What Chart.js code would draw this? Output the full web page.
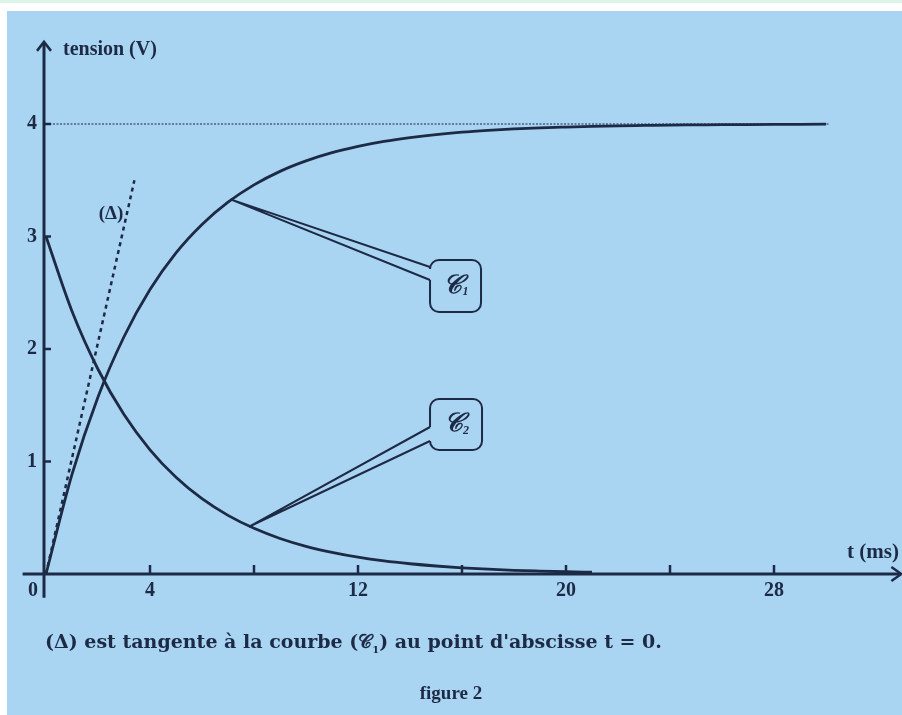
<!DOCTYPE html>
<html lang="fr">
<head>
<meta charset="utf-8">
<title>figure 2</title>
<script src="https://cdn.jsdelivr.net/npm/chart.js@4.4.1/dist/chart.umd.min.js"></script>
<style>
  html, body { margin: 0; padding: 0; background: #ffffff; }
  #wrap { position: relative; width: 902px; height: 715px; overflow: hidden; }
  #graf { position: absolute; left: 0; top: 0; }
  .legende {
    position: absolute; margin: 0;
    font-weight: bold; color: #1d2a45; white-space: nowrap;
  }
  #caption { left: 45px; top: 630px; font-size: 19px; font-family: "DejaVu Serif", serif; }
  #fig { left: 0; width: 902px; top: 682px; font-size: 19px; text-align: center;
         font-family: "Liberation Serif", serif; }
</style>
</head>
<body>
<div id="wrap">
  <canvas id="graf" width="902" height="715"></canvas>
  <p class="legende" id="caption">(Δ) est tangente à la courbe (𝒞<sub style="font-size:10px">1</sub>) au point d'abscisse t = 0.</p>
  <p class="legende" id="fig">figure 2</p>
</div>
<script>
// temps (ms) et tensions (V)
const temps = [0, 1, 2, 3, 4, 5, 6, 7, 8, 9, 10, 11, 12, 13, 14, 15, 16, 17, 18, 19, 20,
               21, 22, 23, 24, 25, 26, 27, 28, 29, 30];
const tensionC1 = [0, 0.885, 1.574, 2.109, 2.528, 2.854, 3.107, 3.305, 3.459, 3.579, 3.672,
                   3.745, 3.801, 3.845, 3.879, 3.906, 3.927, 3.943, 3.956, 3.966, 3.973,
                   3.979, 3.984, 3.987, 3.990, 3.992, 3.994, 3.995, 3.996, 3.997, 3.998];
const tensionC2 = [3.0, 2.336, 1.820, 1.417, 1.104, 0.860, 0.669, 0.521, 0.406, 0.316, 0.246,
                   0.192, 0.149, 0.116, 0.091, 0.071, 0.055, 0.043, 0.033, 0.026, 0.020,
                   0.016];

// tangente (Δ) et asymptote U = 4 V
const tangenteT = [0, 3.4];
const tangenteU = [0, 3.5];
const asymptoteT = [0, 30.1];
const asymptoteU = [4, 4];

// graduations
const ticksX = [4, 8, 12, 16, 20, 24, 28];
const labelsX = [4, 12, 20, 28];
const ticksY = [1, 2, 3, 4];

const COULEUR = '#1d2a45';
const FOND = '#a9d5f3';
const POLICE = '"Liberation Serif", serif';

function points(xs, ys) {
  return xs.slice(0, ys.length).map((x, i) => ({ x, y: ys[i] }));
}

// fond, axes, graduations, étiquettes et bulles
const decor = {
  id: 'decor',
  beforeDraw(chart) {
    const ctx = chart.ctx;
    ctx.save();
    ctx.fillStyle = '#ffffff';
    ctx.fillRect(0, 0, chart.width, chart.height);
    ctx.fillStyle = '#dcf5e8';
    ctx.fillRect(0, 0, chart.width, 3);
    ctx.fillStyle = FOND;
    ctx.fillRect(7, 11, chart.width - 7, chart.height - 11);
    ctx.restore();
  },
  afterDatasetsDraw(chart) {
    const ctx = chart.ctx;
    const sx = chart.scales.x, sy = chart.scales.y;
    const px = v => sx.getPixelForValue(v);
    const py = v => sy.getPixelForValue(v);
    const x0 = px(0), y0 = py(0);

    ctx.save();
    ctx.strokeStyle = COULEUR;
    ctx.fillStyle = COULEUR;
    ctx.lineCap = 'butt';

    // axe des abscisses
    ctx.lineWidth = 3;
    ctx.beginPath();
    ctx.moveTo(px(-0.9), y0);
    ctx.lineTo(px(32.9) - 2, y0);
    ctx.stroke();
    ctx.lineWidth = 2.5;
    ctx.beginPath();
    ctx.moveTo(px(32.9) - 10, y0 - 7);
    ctx.lineTo(px(32.9), y0);
    ctx.lineTo(px(32.9) - 10, y0 + 7);
    ctx.stroke();

    // axe des ordonnées
    ctx.lineWidth = 3;
    ctx.beginPath();
    ctx.moveTo(x0 - 2, py(-0.21));
    ctx.lineTo(x0 - 2, py(4.73) + 2);
    ctx.stroke();
    ctx.lineWidth = 2.5;
    ctx.beginPath();
    ctx.moveTo(x0 - 9, py(4.73) + 9);
    ctx.lineTo(x0 - 2, py(4.73));
    ctx.lineTo(x0 + 5, py(4.73) + 9);
    ctx.stroke();

    // graduations
    ctx.lineWidth = 2.5;
    ticksX.forEach(t => {
      ctx.beginPath();
      ctx.moveTo(px(t), y0);
      ctx.lineTo(px(t), y0 - 9);
      ctx.stroke();
    });
    ticksY.forEach(u => {
      ctx.beginPath();
      ctx.moveTo(x0 - 2, py(u));
      ctx.lineTo(x0 + 5, py(u));
      ctx.stroke();
    });

    // textes des axes
    ctx.font = 'bold 20px ' + POLICE;
    ctx.textAlign = 'center';
    ctx.textBaseline = 'middle';
    labelsX.forEach(t => ctx.fillText(String(t), px(t), y0 + 17));
    ctx.fillText('0', x0 - 13, y0 + 17);
    ctx.textAlign = 'right';
    ticksY.forEach(u => ctx.fillText(String(u), x0 - 9, py(u)));

    ctx.textAlign = 'left';
    ctx.font = 'bold 20px ' + POLICE;
    ctx.fillText('tension (V)', x0 + 17, py(4.66));
    ctx.font = 'bold 21px ' + POLICE;
    ctx.textAlign = 'right';
    ctx.fillText('t (ms)', chart.width - 3, y0 - 21);

    ctx.font = 'bold 19px ' + POLICE;
    ctx.textAlign = 'center';
    ctx.fillText('(Δ)', px(2.5), py(3.2));

    // bulles de repérage des courbes
    const bulle = (ancre, gauche, haut, larg, haut2, gapA, gapB, nom) => {
      ctx.lineWidth = 2;
      ctx.beginPath();
      ctx.moveTo(ancre.x, ancre.y);
      ctx.lineTo(gauche, gapA);
      ctx.moveTo(ancre.x, ancre.y);
      ctx.lineTo(gauche, gapB);
      ctx.stroke();
      const r = 9, droite = gauche + larg, bas = haut + haut2;
      ctx.beginPath();
      ctx.moveTo(gauche, gapB);
      ctx.lineTo(gauche, bas - r);
      ctx.arcTo(gauche, bas, gauche + r, bas, r);
      ctx.lineTo(droite - r, bas);
      ctx.arcTo(droite, bas, droite, bas - r, r);
      ctx.lineTo(droite, haut + r);
      ctx.arcTo(droite, haut, droite - r, haut, r);
      ctx.lineTo(gauche + r, haut);
      ctx.arcTo(gauche, haut, gauche, haut + r, r);
      ctx.lineTo(gauche, gapA);
      ctx.stroke();
      ctx.font = 'italic bold 26px ' + POLICE;
      ctx.textAlign = 'center';
      ctx.fillText('𝒞', gauche + larg / 2 - 3, haut + haut2 / 2);
      ctx.font = 'italic bold 12px ' + POLICE;
      ctx.fillText(nom, gauche + larg / 2 + 10, haut + haut2 / 2 + 6);
    };
    bulle({ x: px(7.1), y: py(3.33) }, px(14.77), 260, 51, 52, 267, 280, '1');
    bulle({ x: px(7.8), y: py(0.42) }, px(14.77), 399, 52, 51, 427, 441, '2');

    ctx.restore();
  }
};

function dessiner() {
  new Chart(document.getElementById('graf'), {
    type: 'scatter',
    data: {
      datasets: [
        {
          label: 'C1',
          data: points(temps, tensionC1),
          showLine: true,
          borderColor: COULEUR,
          borderWidth: 2.8,
          pointRadius: 0,
          cubicInterpolationMode: 'monotone'
        },
        {
          label: 'C2',
          data: points(temps, tensionC2),
          showLine: true,
          borderColor: COULEUR,
          borderWidth: 2.8,
          pointRadius: 0,
          cubicInterpolationMode: 'monotone'
        },
        {
          label: 'tangente',
          data: points(tangenteT, tangenteU),
          showLine: true,
          borderColor: COULEUR,
          borderWidth: 2.5,
          borderDash: [4, 4],
          pointRadius: 0
        },
        {
          label: 'asymptote',
          data: points(asymptoteT, asymptoteU),
          showLine: true,
          borderColor: '#4a5f80',
          borderWidth: 1.5,
          borderDash: [2, 1.5],
          pointRadius: 0
        }
      ]
    },
    options: {
      responsive: false,
      animation: false,
      events: [],
      layout: { padding: 0, autoPadding: false },
      plugins: { legend: { display: false }, tooltip: { enabled: false } },
      scales: {
        x: { type: 'linear', display: false, min: -1.7692, max: 32.923 },
        y: { type: 'linear', display: false, min: -1.2533, max: 5.1022 }
      }
    },
    plugins: [decor]
  });
}

// attendre les polices avant de dessiner le canvas
Promise.all([
  document.fonts.load('bold 20px "Liberation Serif"'),
  document.fonts.load('italic bold 26px "Liberation Serif"')
]).then(dessiner, dessiner);
</script>
</body>
</html>
